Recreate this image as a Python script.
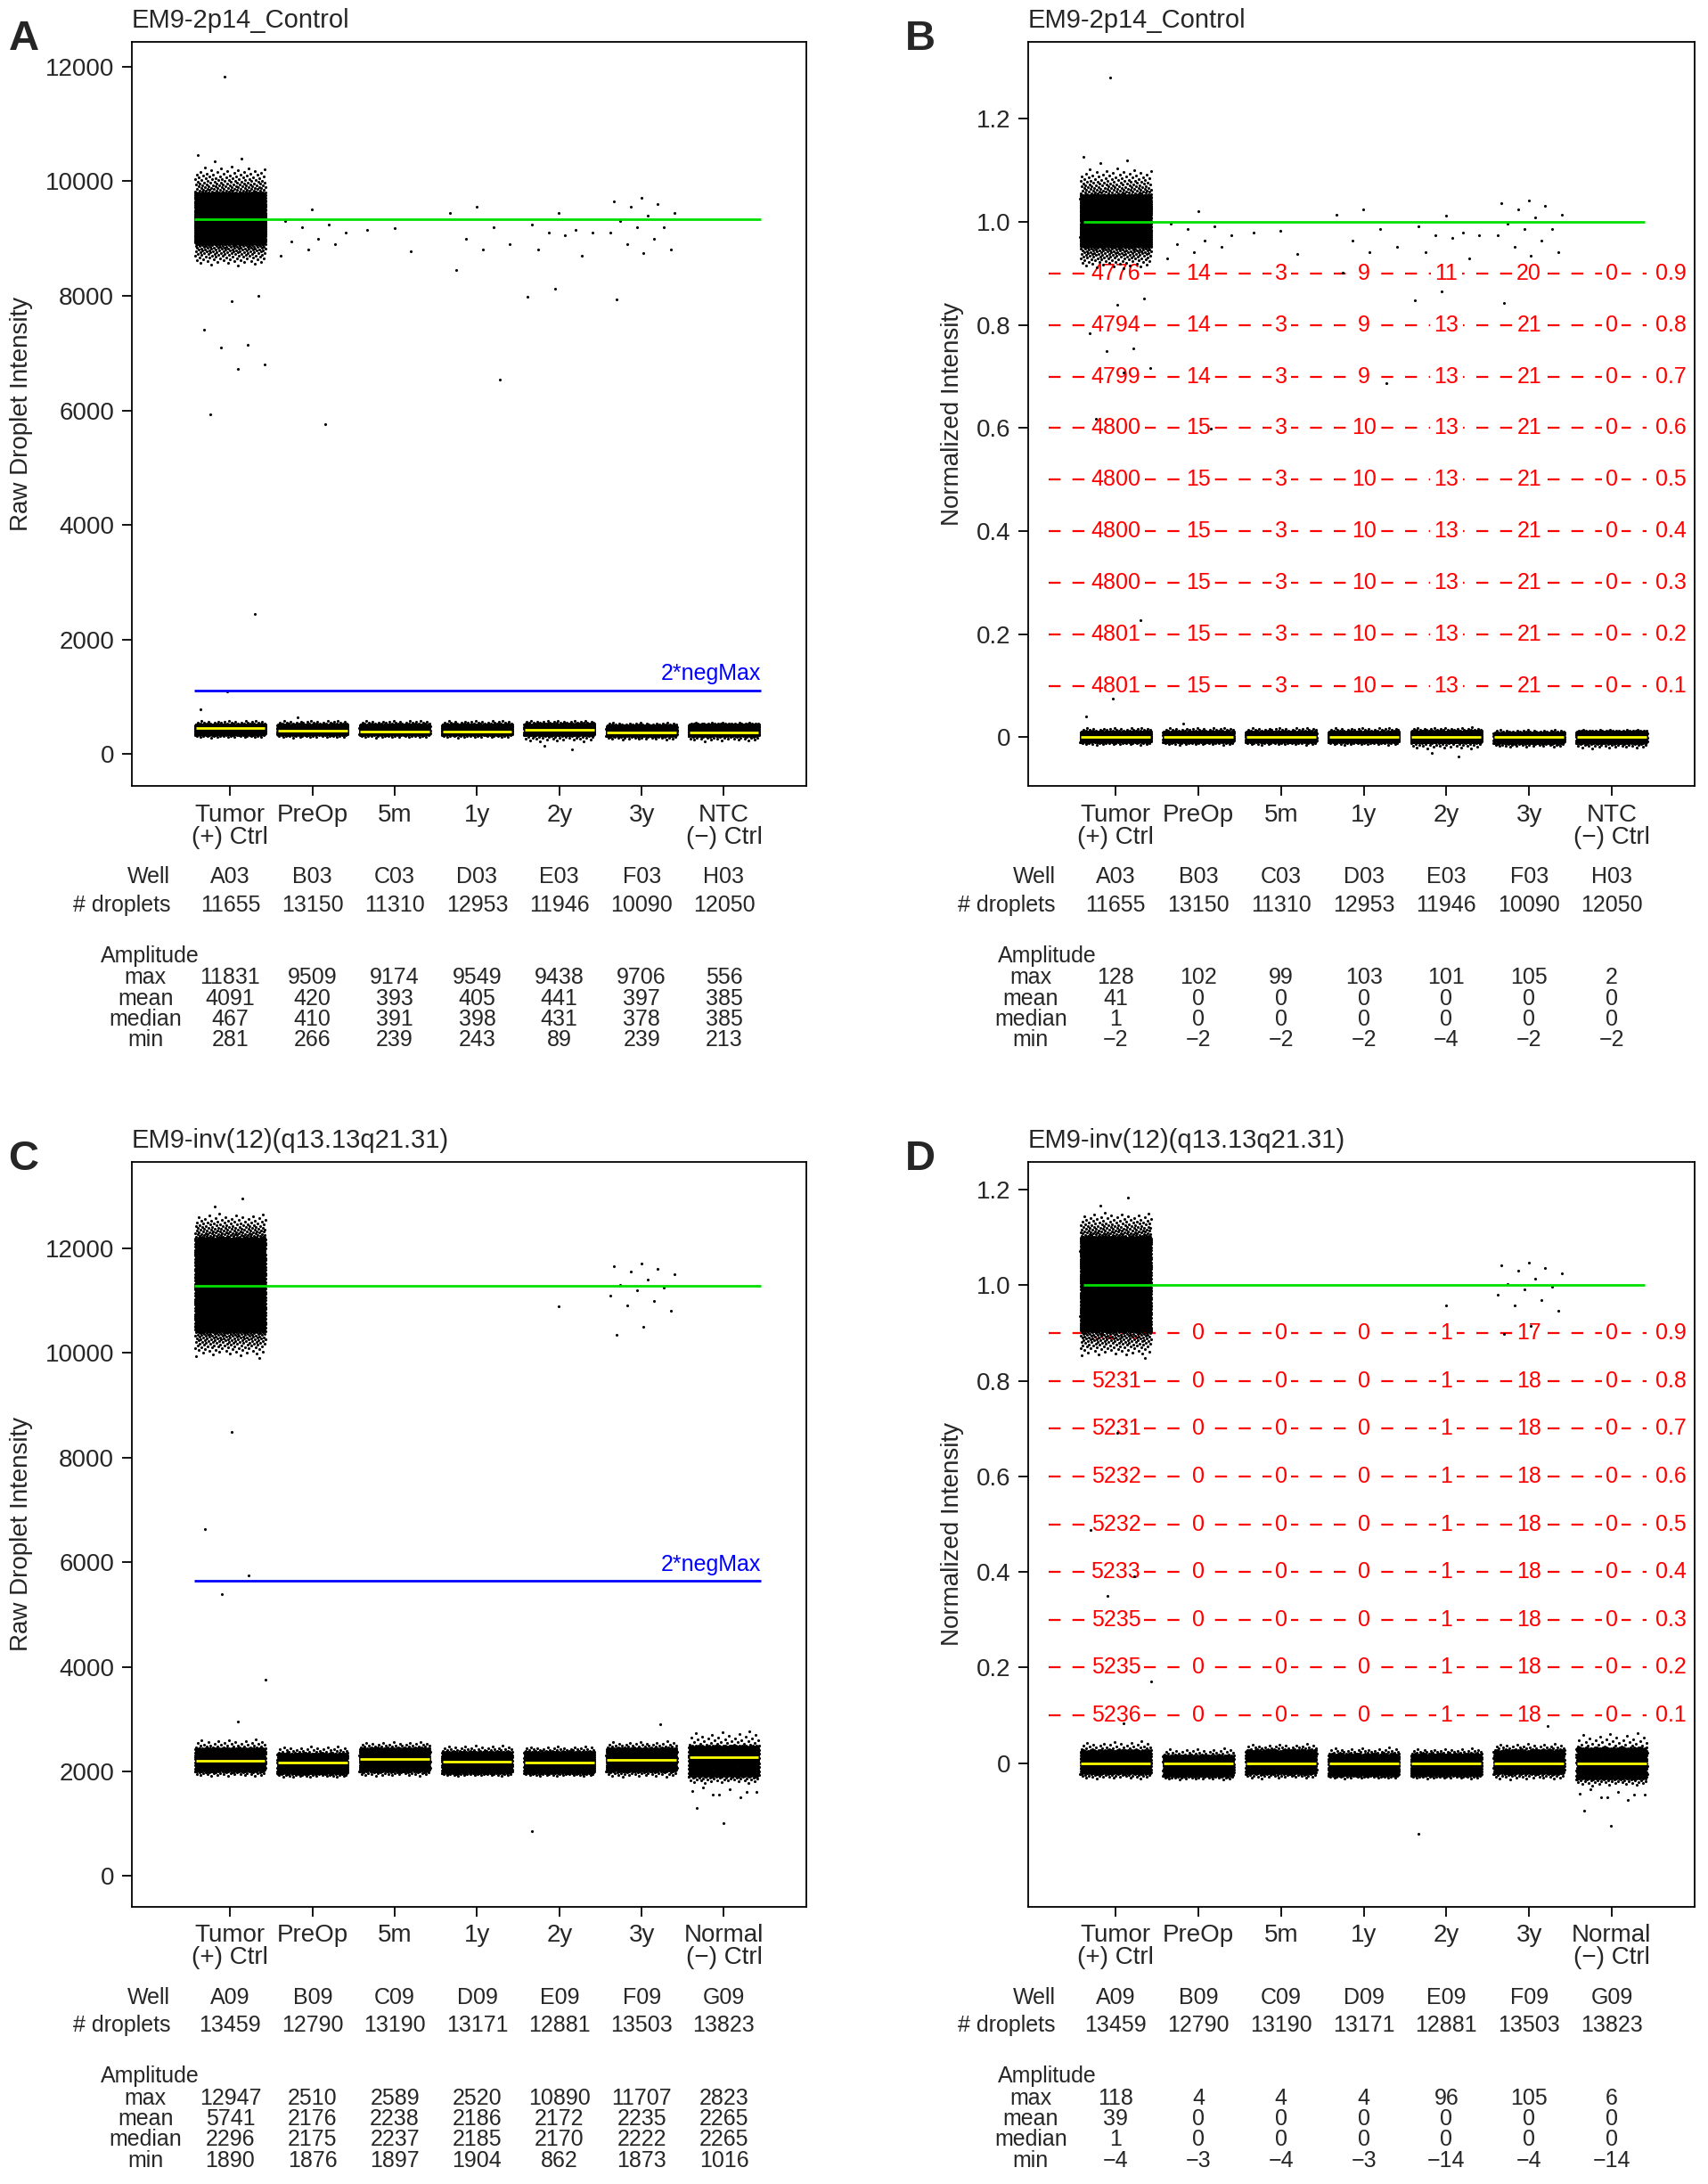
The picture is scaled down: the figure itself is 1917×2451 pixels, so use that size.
import numpy as np, pandas as pd, matplotlib
matplotlib.use("Agg")
import matplotlib.pyplot as plt, seaborn as sns
from matplotlib.transforms import blended_transform_factory as btf

sns.set_theme(style="white")
plt.rcParams['font.family'] = ['Liberation Sans', 'DejaVu Sans']

# ---------------- data ----------------
groups_top = ["Tumor\n(+) Ctrl", "PreOp", "5m", "1y", "2y", "3y", "NTC\n(\u2212) Ctrl"]
groups_bot = ["Tumor\n(+) Ctrl", "PreOp", "5m", "1y", "2y", "3y", "Normal\n(\u2212) Ctrl"]
wells_top = ["A03", "B03", "C03", "D03", "E03", "F03", "H03"]
wells_bot = ["A09", "B09", "C09", "D09", "E09", "F09", "G09"]
drops_top = [11655, 13150, 11310, 12953, 11946, 10090, 12050]
drops_bot = [13459, 12790, 13190, 13171, 12881, 13503, 13823]
ampA = {"max": [11831, 9509, 9174, 9549, 9438, 9706, 556], "mean": [4091, 420, 393, 405, 441, 397, 385],
        "median": [467, 410, 391, 398, 431, 378, 385], "min": [281, 266, 239, 243, 89, 239, 213]}
ampB = {"max": [128, 102, 99, 103, 101, 105, 2], "mean": [41, 0, 0, 0, 0, 0, 0],
        "median": [1, 0, 0, 0, 0, 0, 0], "min": ["\u22122"]*4 + ["\u22124", "\u22122", "\u22122"]}
ampC = {"max": [12947, 2510, 2589, 2520, 10890, 11707, 2823], "mean": [5741, 2176, 2238, 2186, 2172, 2235, 2265],
        "median": [2296, 2175, 2237, 2185, 2170, 2222, 2265], "min": [1890, 1876, 1897, 1904, 862, 1873, 1016]}
ampD = {"max": [118, 4, 4, 4, 96, 105, 6], "mean": [39, 0, 0, 0, 0, 0, 0],
        "median": [1, 0, 0, 0, 0, 0, 0], "min": ["\u22124", "\u22123", "\u22124", "\u22123", "\u221214", "\u22124", "\u221214"]}

levels = [0.9, 0.8, 0.7, 0.6, 0.5, 0.4, 0.3, 0.2, 0.1]
countsB = [[4776, 14, 3, 9, 11, 20, 0], [4794, 14, 3, 9, 13, 21, 0], [4799, 14, 3, 9, 13, 21, 0],
           [4800, 15, 3, 10, 13, 21, 0], [4800, 15, 3, 10, 13, 21, 0], [4800, 15, 3, 10, 13, 21, 0],
           [4800, 15, 3, 10, 13, 21, 0], [4801, 15, 3, 10, 13, 21, 0], [4801, 15, 3, 10, 13, 21, 0]]
countsD = [[5176, 0, 0, 0, 1, 17, 0], [5231, 0, 0, 0, 1, 18, 0], [5231, 0, 0, 0, 1, 18, 0],
           [5232, 0, 0, 0, 1, 18, 0], [5232, 0, 0, 0, 1, 18, 0], [5233, 0, 0, 0, 1, 18, 0],
           [5235, 0, 0, 0, 1, 18, 0], [5235, 0, 0, 0, 1, 18, 0], [5236, 0, 0, 0, 1, 18, 0]]

# dense droplet bands (low, core-low, core-high, high)
negA = [(280, 340, 520, 600)] * 4 + [(200, 330, 530, 600), (239, 320, 500, 560), (213, 320, 520, 556)]
posA_band = (8500, 8900, 9800, 10300)
sparseA = [[11831, 10450, 10400, 10350, 8000, 7900, 7400, 7150, 7100, 6800, 6730, 5930, 2450, 1090, 780],
           [9509, 9300, 9250, 9200, 9100, 9000, 8950, 8900, 8800, 8700, 5760, 650],
           [9174, 9150, 8780],
           [9549, 9450, 9200, 9000, 8900, 8800, 8450, 6540],
           [9438, 9250, 9150, 9100, 9100, 9050, 8800, 8700, 8130, 7980, 89, 150],
           [9706, 9650, 9600, 9550, 9450, 9400, 9300, 9200, 9200, 9100, 9000, 8900, 8800, 8750, 7930],
           []]
negC = [(1890, 2000, 2450, 2650), (1876, 1960, 2350, 2510), (1897, 2000, 2450, 2589), (1904, 1970, 2380, 2520),
        (1900, 1970, 2380, 2500), (1873, 2000, 2450, 2600), (1750, 1900, 2500, 2823)]
posC_band = (9900, 10400, 12200, 12700)
sparseC = [[12947, 12800, 9900, 8480, 6630, 5750, 5380, 3750, 2950],
           [], [], [],
           [10890, 862],
           [11707, 11650, 11600, 11550, 11500, 11400, 11300, 11250, 11200, 11100, 11000, 10900, 10800, 10500, 10350, 2900],
           [1016, 1300, 1500, 1550, 1600, 1650, 1700, 1600, 1550, 1620]]
posmeanA, negmaxA2 = 9330, 1110
posmeanC, negmaxC2 = 11280, 5640


def band(b, n):
    lo, cl, ch, hi = b
    core = np.linspace(cl, ch, n)
    m = max(n // 25, 2)
    t = np.sqrt(np.linspace(0, 1, m, endpoint=False)[1:])
    tail = np.concatenate([cl - (cl - lo) * (1 - t), ch + (hi - ch) * (1 - t)])
    return np.concatenate([core, tail])


def make_df(neg, posb, sparse, npos):
    rows = []
    g = (np.sqrt(5) - 1) / 2
    for i in range(7):
        vals = [band(neg[i], 900)]
        if i == 0:
            vals.append(band(posb, npos))
        vals.append(np.array(sparse[i], float))
        v = np.concatenate(vals)
        j = (np.arange(len(v)) * g) % 1.0
        w = 0.43
        x = i + 1 + (j - 0.5) * 2 * w
        rows.append(pd.DataFrame({"x": x, "y": v, "g": i}))
    return pd.concat(rows)


dfA = make_df(negA, posA_band, sparseA, 3500)
dfC = make_df(negC, posC_band, sparseC, 3800)
medA = 420
medC = 2200
dfB = dfA.assign(y=(dfA.y - medA) / (posmeanA - medA))
dfD = dfC.assign(y=(dfC.y - medC) / (posmeanC - medC))

fig = plt.figure(figsize=(19.17, 24.51), dpi=100)
FS = 20
TS = 18


def panel(rect, df, ylim, yticks, yticklabels, xlim, title, letter, ylabel, groups, wells, drops, amp,
          medians, gline, gx, bline=None, counts=None, dash_x=None):
    ax = fig.add_axes(rect)
    sns.scatterplot(data=df, x="x", y="y", color="black", s=5, linewidth=0, ax=ax, legend=False, zorder=7)
    ax.set_xlim(*xlim); ax.set_ylim(*ylim)
    ax.set_yticks(yticks); ax.set_yticklabels(yticklabels, fontsize=FS)
    ax.set_xticks(range(1, 8)); ax.set_xticklabels(groups, fontsize=FS, linespacing=0.95)
    ax.tick_params(axis="both", direction="out", length=8, width=1.3, left=True, bottom=True, color="black", pad=6)
    for s in ax.spines.values():
        s.set_color("black"); s.set_linewidth(1.3)
    ax.set_xlabel(""); ax.set_ylabel(ylabel, fontsize=FS, labelpad=10)
    ax.hlines(gline, gx[0], gx[1], color="#00e000", lw=2, zorder=8)
    for i, m in enumerate(medians):
        ax.hlines(m, i + 1 - 0.42, i + 1 + 0.42, color="yellow", lw=2, zorder=9)
    if bline is not None:
        ax.hlines(bline, gx[0], gx[1], color="blue", lw=2, zorder=8)
        ax.text(gx[1], bline + (ylim[1] - ylim[0]) * 0.008, "2*negMax", color="blue", fontsize=TS, ha="right", va="bottom")
    if counts is not None:
        for lv, row in zip(levels, counts):
            ax.hlines(lv, dash_x[0], dash_x[1], color="red", lw=1.6, linestyles=(0, (6, 6)), zorder=3)
            for i, c in enumerate(row):
                ax.text(i + 1, lv, str(c), color="red", fontsize=TS, ha="center", va="center", zorder=6,
                        bbox=dict(facecolor="white", edgecolor="none", pad=3))
            ax.text(7.72, lv, f"{lv:g}", color="red", fontsize=TS, ha="center", va="center", zorder=6)
    ax.text(0, 1.012, title, transform=ax.transAxes, fontsize=FS + 1, ha="left", va="bottom")
    fig.text(rect[0] - 0.072, rect[1] + rect[3] + 0.001, letter, fontsize=34, fontweight="bold", ha="left", va="center")
    tr = btf(ax.transData, ax.transAxes)
    lx = 0.27
    rowy = {"Well": -0.122, "# droplets": -0.16}
    ax.text(lx, rowy["Well"], "Well", transform=tr, ha="right", va="center", fontsize=TS)
    ax.text(lx, rowy["# droplets"], "# droplets", transform=tr, ha="right", va="center", fontsize=TS)
    for i in range(7):
        ax.text(i + 1, rowy["Well"], wells[i], transform=tr, ha="center", va="center", fontsize=TS)
        ax.text(i + 1, rowy["# droplets"], str(drops[i]), transform=tr, ha="center", va="center", fontsize=TS)
    ax.text(-0.57 + (xlim[0] + 0.2), -0.228, "Amplitude", transform=tr, ha="left", va="center", fontsize=TS)
    for k, yy in zip(["max", "mean", "median", "min"], [-0.257, -0.285, -0.313, -0.341]):
        ax.text(lx - 0.3, yy, k, transform=tr, ha="center", va="center", fontsize=TS)
        for i in range(7):
            ax.text(i + 1, yy, str(amp[k][i]), transform=tr, ha="center", va="center", fontsize=TS)
    return ax


yA = list(range(0, 12001, 2000))
yB = [0, 0.2, 0.4, 0.6, 0.8, 1.0, 1.2]
yBl = ["0", "0.2", "0.4", "0.6", "0.8", "1.0", "1.2"]
panel([0.077, 0.640, 0.395, 0.341], dfA, (-560, 12437), yA, [str(v) for v in yA], (-0.2, 8.0),
      "EM9-2p14_Control", "A", "Raw Droplet Intensity", groups_top, wells_top, drops_top, ampA,
      [450, 410, 391, 398, 431, 378, 385], posmeanA, (0.56, 7.45), bline=negmaxA2)
panel([0.602, 0.640, 0.390, 0.341], dfB, (-0.095, 1.35), yB, yBl, (-0.06, 8.0),
      "EM9-2p14_Control", "B", "Normalized Intensity", groups_top, wells_top, drops_top, ampB,
      [0] * 7, 1.0, (0.61, 7.4), counts=countsB, dash_x=(0.19, 7.42))
panel([0.077, 0.127, 0.395, 0.341], dfC, (-585, 13650), yA, [str(v) for v in yA], (-0.2, 8.0),
      "EM9-inv(12)(q13.13q21.31)", "C", "Raw Droplet Intensity", groups_bot, wells_bot, drops_bot, ampC,
      [2200, 2175, 2237, 2185, 2170, 2222, 2265], posmeanC, (0.56, 7.45), bline=negmaxC2)
panel([0.602, 0.127, 0.390, 0.341], dfD, (-0.30, 1.258), yB, yBl, (-0.06, 8.0),
      "EM9-inv(12)(q13.13q21.31)", "D", "Normalized Intensity", groups_bot, wells_bot, drops_bot, ampD,
      [0] * 7, 1.0, (0.61, 7.4), counts=countsD, dash_x=(0.19, 7.42))

fig.savefig("out.png", dpi=100, facecolor="white")
